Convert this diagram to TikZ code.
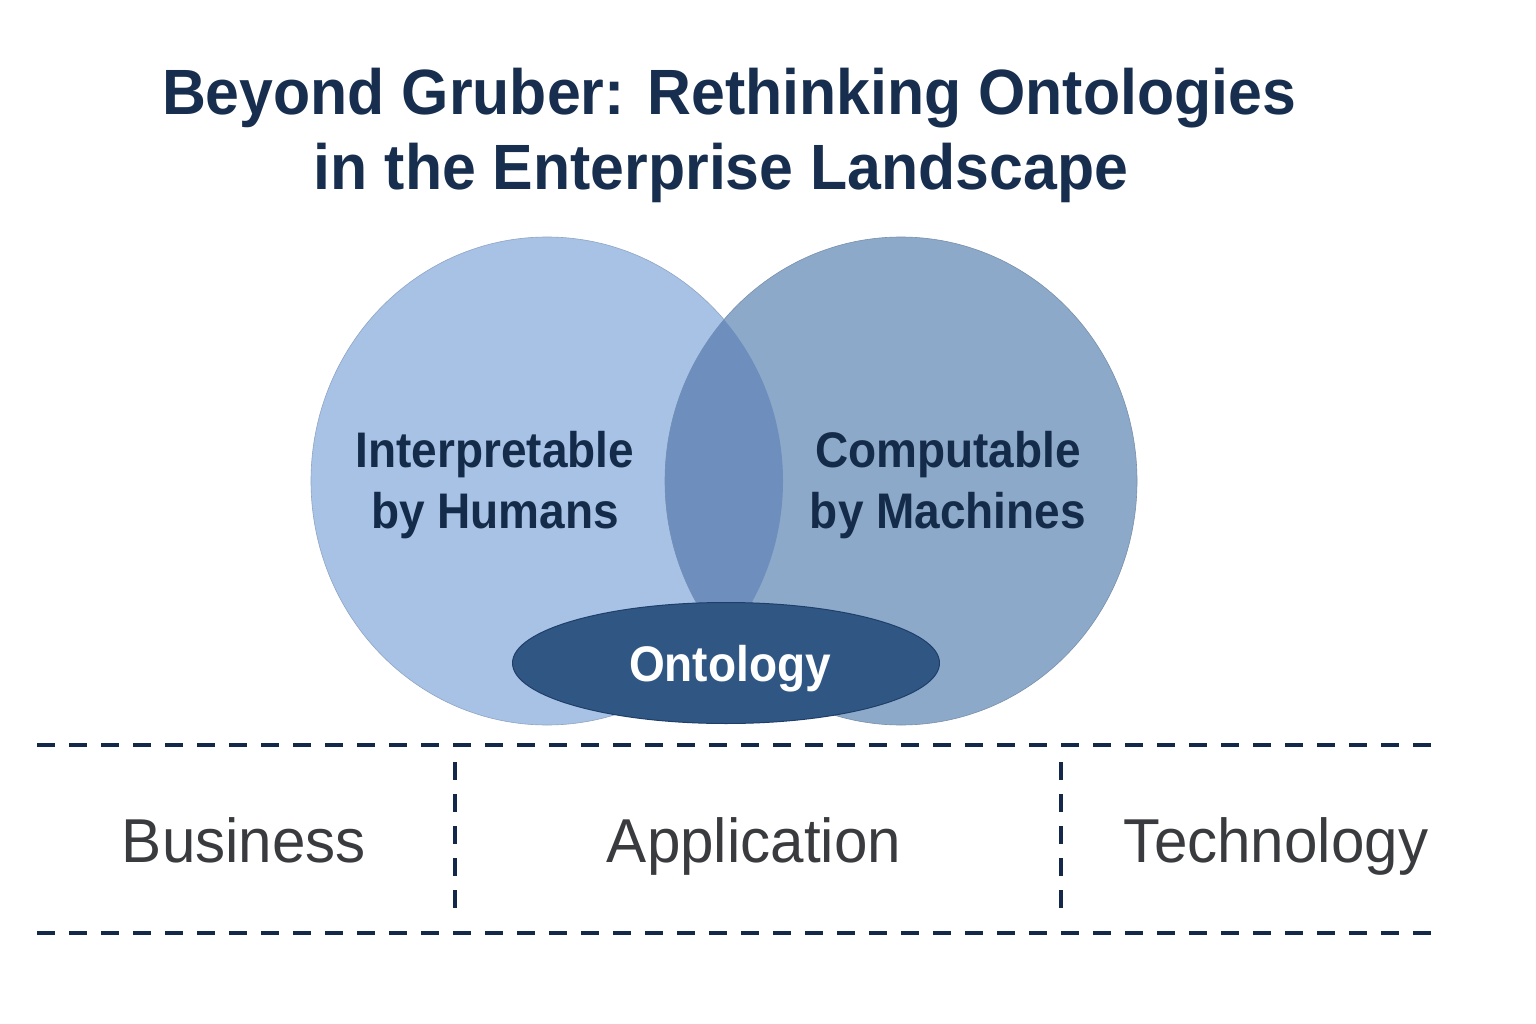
\documentclass[tikz,border=0pt]{standalone}
\usepackage{fontspec}
\setmainfont{Liberation Sans}
\usetikzlibrary{shapes.geometric}
\definecolor{titlecol}{HTML}{172E4F}
\definecolor{labelcol}{HTML}{152B4A}
\definecolor{leftcol}{HTML}{A8C2E6}
\definecolor{rightcol}{HTML}{8DA9C9}
\definecolor{overcol}{HTML}{6E8FBD}
\definecolor{ontocol}{HTML}{305783}
\definecolor{ontoedge}{HTML}{1F3F6A}
\definecolor{dashcol}{HTML}{14294A}
\definecolor{graycol}{HTML}{3A3B3E}
\newcommand{\narrow}[2]{\scalebox{#1}[1]{#2}}
\tikzset{
  titletext/.style={font=\fontsize{64}{64}\selectfont\bfseries, text=titlecol, anchor=base, inner sep=0pt},
  circtext/.style={font=\fontsize{50}{50}\selectfont\bfseries, text=labelcol, anchor=base, inner sep=0pt},
  layertext/.style={font=\fontsize{62}{62}\selectfont, text=graycol, anchor=base, inner sep=0pt},
  setcircle/.style={ellipse, minimum width=472pt, minimum height=488pt, inner sep=0pt},
  dashline/.style={draw=dashcol, line width=3.5pt, dash pattern=on 18pt off 14pt},
}
\begin{document}
\begin{tikzpicture}[x=1pt,y=-1pt]
\useasboundingbox[fill=white] (0,0) rectangle (1536,1024);
% title
\node[titletext] (t1) at (729,115) {\narrow{0.95}{Beyond Gruber: Rethinking Ontologies}};
\node[titletext] (t2) at (721,190) {\narrow{0.95}{in the Enterprise Landscape}};
% circles
\node[setcircle, fill=leftcol, draw=leftcol!85!black, line width=0.6pt] (L) at (547,481) {};
\node[setcircle, fill=rightcol, draw=rightcol!85!black, line width=0.6pt] (R) at (901,481) {};
\begin{scope}
  \clip (547,481) ellipse [x radius=236pt, y radius=244pt];
  \fill[overcol] (901,481) ellipse [x radius=236pt, y radius=244pt];
\end{scope}
\node[circtext] (h1) at (495,467) {\narrow{0.92}{Interpretable}};
\node[circtext] (h2) at (495,528) {\narrow{0.92}{by Humans}};
\node[circtext] (m1) at (948,467) {\narrow{0.92}{Computable}};
\node[circtext] (m2) at (948,528) {\narrow{0.92}{by Machines}};
% ontology
\node[ellipse, fill=ontocol, draw=ontoedge, line width=1pt, minimum width=427pt, minimum height=121pt, inner sep=0pt] (O) at (726,663) {};
\node[font=\fontsize{50}{50}\selectfont\bfseries, text=white, anchor=base, inner sep=0pt] (Ot) at (730,681) {\narrow{0.92}{Ontology}};
% layers
\coordinate (a1) at (37,745);
\coordinate (a2) at (1445,745);
\coordinate (b1) at (37,933);
\coordinate (b2) at (1432,933);
\coordinate (v1a) at (455,762);
\coordinate (v1b) at (455,918);
\coordinate (v2a) at (1061,762);
\coordinate (v2b) at (1061,918);
\draw[dashline] (a1) -- (a2);
\draw[dashline] (b1) -- (b2);
\draw[dashline] (v1a) -- (v1b);
\draw[dashline] (v2a) -- (v2b);
\node[layertext] (bus) at (244,862) {\narrow{0.97}{Business}};
\node[layertext] (app) at (754,862) {\narrow{0.97}{Application}};
\node[layertext] (tec) at (1276,862) {\narrow{0.97}{Technology}};
\end{tikzpicture}
\end{document}
